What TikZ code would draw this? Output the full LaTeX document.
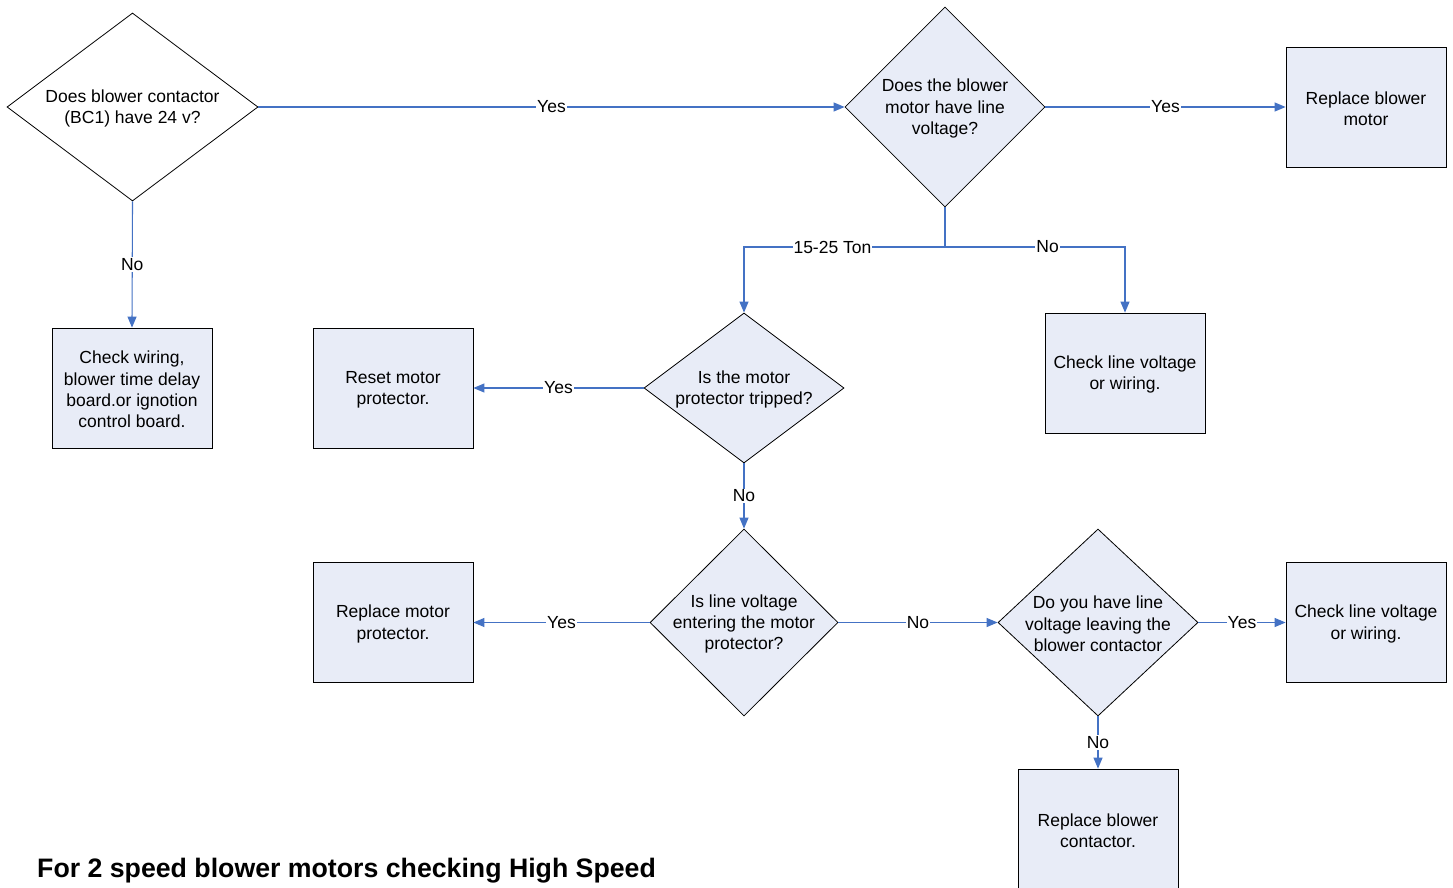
\documentclass[tikz,border=0pt]{standalone}
\usepackage{fontspec}
\setmainfont{Liberation Sans}
\usetikzlibrary{shapes.geometric,arrows.meta}
\definecolor{fillc}{RGB}{232,236,247}
\definecolor{linec}{RGB}{68,114,196}
\newcommand\myfs{\fontsize{17.5}{21.3}\selectfont}
\begin{document}
\begin{tikzpicture}[x=1pt,y=-1pt,
  box/.style={draw=black, line width=0.8pt, fill=fillc, rectangle, minimum width=160pt, minimum height=120pt, inner sep=0pt},
  dia/.style={draw=black, line width=0.8pt, fill=fillc, diamond, inner sep=0pt},
  txt/.style={align=center, font=\myfs, inner sep=0pt, yshift=-1.5pt},
  lbl/.style={fill=white, inner sep=1pt, font=\myfs, text=black},
  conn/.style={draw=linec, line width=1.1pt, -{Triangle[length=11pt,width=9pt]}},
  plain/.style={draw=linec, line width=1.1pt}
]
\useasboundingbox[fill=white] (0,0) rectangle (1453,888);
\clip (0,0) rectangle (1453,888);

% diamonds
\node[dia, fill=white, minimum width=251pt, minimum height=188pt] (d1) at (132.5,107) {};
\node[txt] (d1t) at (d1.center) {Does blower contactor\\(BC1) have 24 v?};
\node[dia, minimum width=200pt, minimum height=200pt] (d2) at (945,107) {};
\node[txt] (d2t) at (d2.center) {Does the blower\\motor have line\\voltage?};
\node[dia, minimum width=200pt, minimum height=150pt] (d3) at (744,388) {};
\node[txt] (d3t) at (d3.center) {Is the motor\\protector tripped?};
\node[dia, minimum width=188pt, minimum height=187pt] (d4) at (744,622.5) {};
\node[txt] (d4t) at (d4.center) {Is line voltage\\entering the motor\\protector?};
\node[dia, minimum width=200pt, minimum height=187pt] (d5) at (1098,622.5) {};
\node[txt] (d5t) at (d5.center) {Do you have line\\voltage leaving the\\blower contactor};

% boxes
\node[box] (rbm) at (1366,107) {};
\node[txt] (rbmt) at (rbm.center) {Replace blower\\motor};
\node[box] (cw) at (132,388) {};
\node[txt] (cwt) at (cw.center) {Check wiring,\\blower time delay\\board.or ignotion\\control board.};
\node[box] (rmp) at (393,388) {};
\node[txt] (rmpt) at (rmp.center) {Reset motor\\protector.};
\node[box] (clv1) at (1125,373) {};
\node[txt] (clv1t) at (clv1.center) {Check line voltage\\or wiring.};
\node[box] (rpl) at (393,622.5) {};
\node[txt] (rplt) at (rpl.center) {Replace motor\\protector.};
\node[box] (clv2) at (1366,622.5) {};
\node[txt] (clv2t) at (clv2.center) {Check line voltage\\or wiring.};
\node[box] (rbc) at (1098,829) {};
\node[txt] (rbct) at (rbc.center) {Replace blower\\contactor.};

% title
\node[anchor=base west, inner sep=0pt, font=\fontsize{26.7}{30}\selectfont\bfseries] (title) at (37,877) {For 2 speed blower motors checking High Speed};

% connectors
\draw[conn] (d1.east) -- node[lbl]{Yes} (d2.west);
\draw[conn] (d2.east) -- node[lbl]{Yes} (rbm.west);
\draw[conn] (d1.south) -- node[lbl]{No} (cw.north);
\coordinate (split) at (945,247);
\draw[plain] (d2.south) -- (split);
\draw[conn] (split) -| node[lbl, pos=0.28]{15-25 Ton} (d3.north);
\draw[conn] (split) -| node[lbl, pos=0.285]{No} (clv1.north);
\draw[conn] (d3.west) -- node[lbl]{Yes} (rmp.east);
\draw[conn] (d3.south) -- node[lbl]{No} (d4.north);
\draw[conn] (d4.west) -- node[lbl]{Yes} (rpl.east);
\draw[conn] (d4.east) -- node[lbl]{No} (d5.west);
\draw[conn] (d5.east) -- node[lbl]{Yes} (clv2.west);
\draw[conn] (d5.south) -- node[lbl]{No} (rbc.north);
\end{tikzpicture}
\end{document}
